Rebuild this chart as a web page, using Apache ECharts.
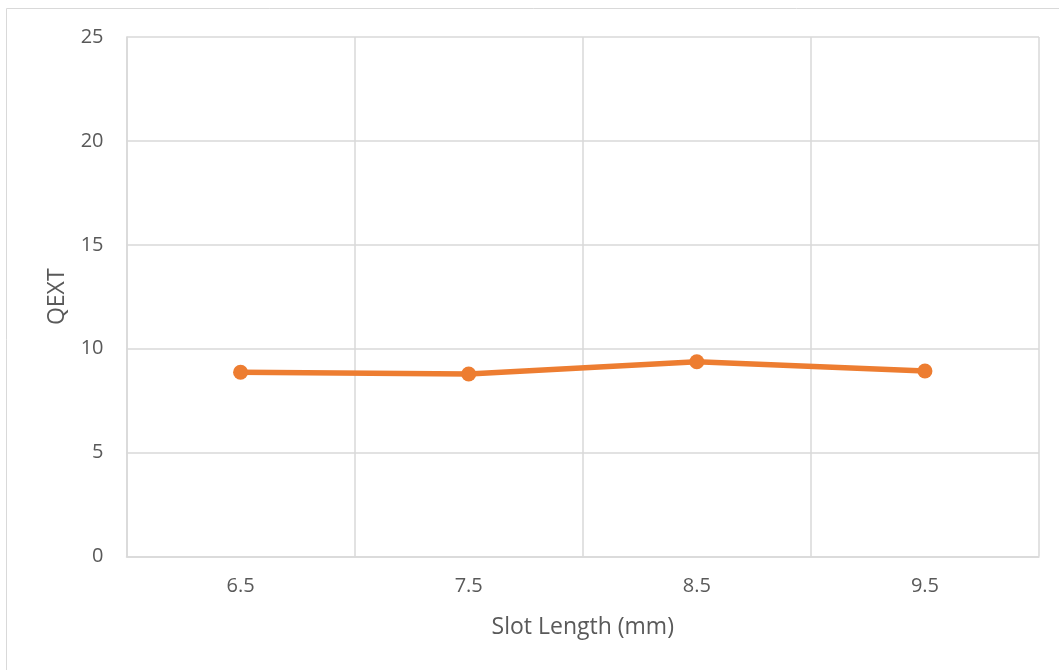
<!DOCTYPE html>
<html>
<head>
<meta charset="utf-8">
<script src="https://cdn.jsdelivr.net/npm/echarts@6/dist/echarts.min.js"></script>
<style>
html,body{margin:0;padding:0;background:#fff;}
#chart{width:1059px;height:670px;}
</style>
</head>
<body>
<div id="chart"></div>
<script>
const categories = ['6.5', '7.5', '8.5', '9.5'];
const qextValues = [8.87, 8.78, 9.37, 8.93];
const yTicks = { min: 0, max: 25, interval: 5 };

const chart = echarts.init(document.getElementById('chart'));
const font = '"Open Sans", "Liberation Sans", sans-serif';
chart.setOption({
  animation: false,
  graphic: [{
    type: 'rect',
    shape: { x: 6.5, y: 8.5, width: 1070, height: 700 },
    style: { fill: 'none', stroke: '#D9D9D9', lineWidth: 1 },
    silent: true
  }],
  grid: { left: 126.5, top: 37, width: 912.5, height: 519.5, containLabel: false },
  xAxis: {
    type: 'category',
    data: categories,
    boundaryGap: true,
    name: 'Slot Length (mm)',
    nameLocation: 'middle',
    nameGap: 59,
    nameTextStyle: { color: '#595959', fontSize: 23, fontFamily: font },
    axisLine: { show: true, lineStyle: { color: '#D9D9D9', width: 1.5 } },
    axisTick: { show: false },
    axisLabel: { color: '#595959', fontSize: 20, fontFamily: font, margin: 20 },
    splitLine: { show: true, interval: 0, lineStyle: { color: '#D9D9D9', width: 1.5 } }
  },
  yAxis: {
    type: 'value',
    min: yTicks.min, max: yTicks.max, interval: yTicks.interval,
    name: 'QEXT',
    nameLocation: 'middle',
    nameGap: 58,
    nameRotate: 90,
    nameTextStyle: { color: '#595959', fontSize: 23, fontFamily: font },
    axisLine: { show: true, lineStyle: { color: '#D9D9D9', width: 1.5 } },
    axisTick: { show: false },
    axisLabel: { color: '#595959', fontSize: 20, fontFamily: font, margin: 23 },
    splitLine: { show: true, lineStyle: { color: '#D9D9D9', width: 1.5 } }
  },
  series: [{
    type: 'line',
    data: qextValues,
    symbol: 'circle',
    symbolSize: 15,
    itemStyle: { color: '#ED7D31' },
    lineStyle: { color: '#ED7D31', width: 5.5 }
  }]
});
</script>
</body>
</html>
